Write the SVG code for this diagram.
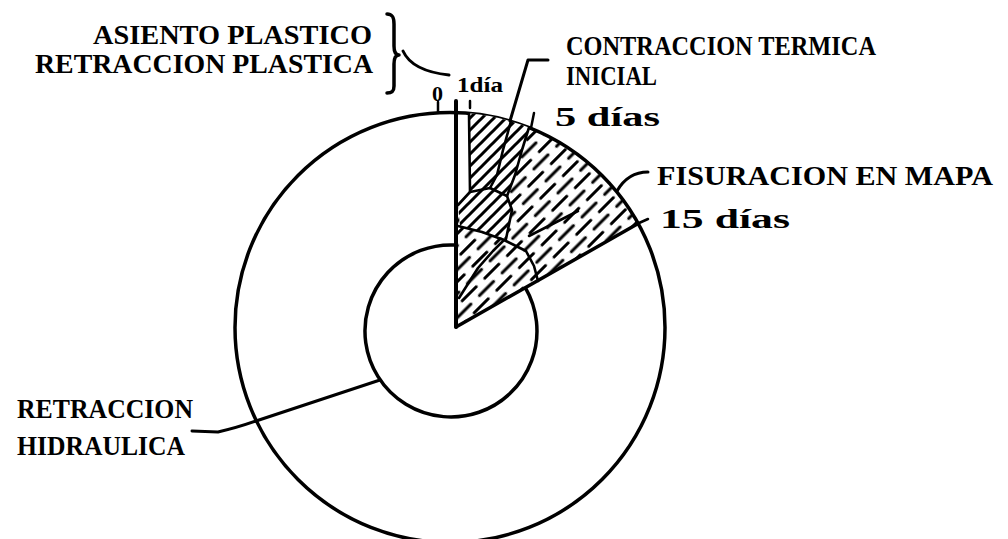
<svg xmlns="http://www.w3.org/2000/svg" width="1008" height="539" viewBox="0 0 1008 539">
<style>
.t{font-family:"Liberation Serif","DejaVu Serif",serif;font-weight:bold;fill:#000}
.ln{fill:none;stroke:#000;stroke-linecap:round;stroke-linejoin:round}
.ring{fill:none;stroke:#000;stroke-width:3.5}
.crack{fill:none;stroke:#000;stroke-width:2.6;stroke-linecap:round;stroke-linejoin:round}
</style>
<defs>
<pattern id="hs" patternUnits="userSpaceOnUse" width="12" height="12">
<path d="M-2,14 L14,-2 M-2,2 L2,-2 M10,14 L14,10" stroke="#000" stroke-width="3"/>
</pattern>
<pattern id="hd" patternUnits="userSpaceOnUse" width="32" height="17" patternTransform="rotate(-45)">
<path d="M2,4 L22,4 M18,12.5 L32,12.5 M0,12.5 L6,12.5" stroke="#000" stroke-width="3" stroke-linecap="round"/>
</pattern>
</defs>
<rect width="1008" height="539" fill="#fff"/>

<g id="rings">
<circle class="ring" cx="450" cy="327.5" r="215"/>
<path class="ring" d="M456,245.1 A86,86 0 1,0 525.3,287.7"/>
</g>

<g id="sector">
<path d="M456,327 L458,205 L470,192 L469,113.3 A215,215 0 0,1 638.2,223.6 Z" fill="url(#hd)"/>
<path d="M469,113.3 A215,215 0 0,1 529,127.5 L522,150 L515,175 L507,196 L512,210 L506,239 L482,232 L460,226 L458,205 L470,192 Z" fill="#fff"/>
<path d="M469,113.3 A215,215 0 0,1 529,127.5 L522,150 L515,175 L507,196 L512,210 L506,239 L482,232 L460,226 L458,205 L470,192 Z" fill="url(#hs)"/>
<path class="crack" d="M469,113.3 L470,192 L458,205"/>
<path class="crack" d="M470,192 L490,188 L507,196 L512,210 L506,239"/>
<path class="crack" d="M511,121 L503,150 L497,175 L490,188"/>
<path class="crack" d="M529,127.5 L522,150 L515,175 L507,196"/>
<path class="crack" d="M458,226 L482,232 L504,240 L526,251 L534,266 L538,281"/>
<path class="crack" d="M459,298 L478,268 L493,251 L504,240"/>
<path class="crack" d="M529,236 L578,211"/>
<path class="ln" stroke-width="3.5" d="M456,327 L638.2,223.6"/>
<path class="ln" stroke-width="4" d="M456,101 L456,327"/>
</g>

<g id="connectors">
<path class="ln" stroke-width="3.5" d="M387,14 C393,14 394,18 394,24 L394,46 C394,52 396,55 399,55 C396,55 394,58 394,64 L394,86 C394,91 392,93 387,93"/>
<path class="ln" stroke-width="3" d="M403,51 Q412,71 449,75"/>
<path class="ln" stroke-width="2.5" d="M438,102 L438,112.5"/>
<path class="ln" stroke-width="2.5" d="M470,101 L470,108"/>
<path class="ln" stroke-width="3" d="M548,60 L528,60 L510,121"/>
<path class="ln" stroke-width="2.5" d="M531,128 L534,113"/>
<path class="ln" stroke-width="3" d="M648,172 Q628,172 617,191"/>
<path class="ln" stroke-width="2.5" d="M639,223 L648,219"/>
<path class="ln" stroke-width="3" d="M192,431 L218,432 Q236,428 256,421 L380,380"/>
</g>

<g id="label-asiento">
<text class="t" x="93" y="44" font-size="28" textLength="279" lengthAdjust="spacingAndGlyphs">ASIENTO PLASTICO</text>
<text class="t" x="35" y="73" font-size="28" textLength="338" lengthAdjust="spacingAndGlyphs">RETRACCION PLASTICA</text>
</g>
<g id="label-0">
<text class="t" x="432" y="101" font-size="21" textLength="11" lengthAdjust="spacingAndGlyphs">0</text>
</g>
<g id="label-1dia">
<text class="t" x="457" y="92" font-size="22" textLength="46" lengthAdjust="spacingAndGlyphs">1día</text>
</g>
<g id="label-contraccion">
<text class="t" x="566" y="55" font-size="28" textLength="310" lengthAdjust="spacingAndGlyphs">CONTRACCION TERMICA</text>
<text class="t" x="566" y="85" font-size="28" textLength="91" lengthAdjust="spacingAndGlyphs">INICIAL</text>
</g>
<g id="label-5dias">
<text class="t" x="555" y="126" font-size="27" textLength="105" lengthAdjust="spacingAndGlyphs">5 días</text>
</g>
<g id="label-fisuracion">
<text class="t" x="657" y="185" font-size="28" textLength="336" lengthAdjust="spacingAndGlyphs">FISURACION EN MAPA</text>
</g>
<g id="label-15dias">
<text class="t" x="660" y="228" font-size="28" textLength="130" lengthAdjust="spacingAndGlyphs">15 días</text>
</g>
<g id="label-retraccion">
<text class="t" x="17" y="418" font-size="28" textLength="176" lengthAdjust="spacingAndGlyphs">RETRACCION</text>
<text class="t" x="17" y="455" font-size="28" textLength="168" lengthAdjust="spacingAndGlyphs">HIDRAULICA</text>
</g>
</svg>
